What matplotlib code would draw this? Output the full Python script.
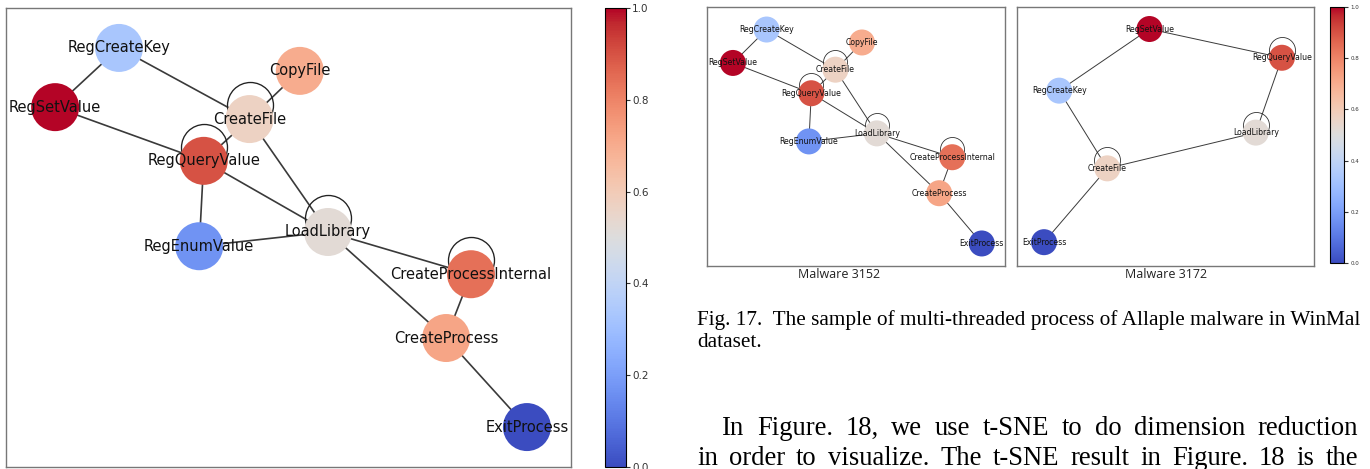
import numpy as np
import matplotlib.pyplot as plt
from matplotlib import cm, colors
from matplotlib.transforms import offset_copy

# ---- data ----
# layout of the Malware 3152 graph (axes fraction), shared by the big and small plot
nodes_a = ['RegCreateKey', 'RegSetValue', 'CopyFile', 'CreateFile', 'RegQueryValue',
           'LoadLibrary', 'RegEnumValue', 'CreateProcessInternal', 'CreateProcess', 'ExitProcess']
x_a = [0.200, 0.087, 0.520, 0.431, 0.350, 0.570, 0.342, 0.823, 0.779, 0.922]
y_a = [0.913, 0.784, 0.863, 0.758, 0.667, 0.512, 0.481, 0.420, 0.281, 0.087]
edges_a = [('RegCreateKey', 'RegSetValue'), ('RegCreateKey', 'CreateFile'),
           ('CopyFile', 'CreateFile'), ('RegSetValue', 'RegQueryValue'),
           ('RegQueryValue', 'CreateFile'), ('RegQueryValue', 'RegEnumValue'),
           ('RegQueryValue', 'LoadLibrary'), ('CreateFile', 'LoadLibrary'),
           ('RegEnumValue', 'LoadLibrary'), ('LoadLibrary', 'CreateProcessInternal'),
           ('LoadLibrary', 'CreateProcess'), ('CreateProcessInternal', 'CreateProcess'),
           ('CreateProcess', 'ExitProcess')]
loops_a = ['CreateFile', 'RegQueryValue', 'LoadLibrary', 'CreateProcessInternal']

# layout of the Malware 3172 graph
nodes_b = ['RegSetValue', 'RegQueryValue', 'RegCreateKey', 'LoadLibrary', 'CreateFile', 'ExitProcess']
x_b = [0.446, 0.892, 0.142, 0.804, 0.304, 0.091]
y_b = [0.915, 0.804, 0.677, 0.515, 0.377, 0.092]
edges_b = [('RegSetValue', 'RegQueryValue'), ('RegSetValue', 'RegCreateKey'),
           ('RegQueryValue', 'LoadLibrary'), ('RegCreateKey', 'CreateFile'),
           ('CreateFile', 'LoadLibrary'), ('CreateFile', 'ExitProcess')]
loops_b = ['RegQueryValue', 'LoadLibrary', 'CreateFile']

# colour value of every API call (0..1 on the coolwarm scale)
node_value = {
    'RegSetValue': 1.00, 'RegQueryValue': 0.90, 'CreateProcessInternal': 0.84,
    'CreateProcess': 0.72, 'CopyFile': 0.70, 'CreateFile': 0.57, 'LoadLibrary': 0.52,
    'RegCreateKey': 0.33, 'RegEnumValue': 0.17, 'ExitProcess': 0.00,
}
cbar_ticks = [0.0, 0.2, 0.4, 0.6, 0.8, 1.0]

panel_titles = ['Malware 3152', 'Malware 3172']
caption_lines = ['Fig. 17.  The sample of multi-threaded process of Allaple malware in WinMal',
                 'dataset.']
para_lines = ['In Figure. 18, we use t-SNE to do dimension reduction',
              'in order to visualize. The t-SNE result in Figure. 18 is the']

W, H = 1370, 469
DPI = 100
cmap = plt.get_cmap('coolwarm')
norm = colors.Normalize(0, 1)


def px_box(x0, y0, x1, y1):
    # pixel box (top-left origin) -> figure fraction rect
    return [x0 / W, 1 - y1 / H, (x1 - x0) / W, (y1 - y0) / H]


def draw_graph(ax, names, xs, ys, edges, loops, node_px, loop_px, loop_up, fsize, lw):
    pos = {n: (x, y) for n, x, y in zip(names, xs, ys)}
    for a, b in edges:
        ax.plot([pos[a][0], pos[b][0]], [pos[a][1], pos[b][1]],
                color='#3a3a3a', lw=lw, zorder=1)
    # self loops: open circles shifted up from the node centre
    tr = offset_copy(ax.transData, fig=ax.figure, x=0, y=loop_up * 72 / DPI, units='points')
    for n in loops:
        ax.plot(pos[n][0], pos[n][1], 'o', ms=loop_px * 72 / DPI, mfc='none',
                mec='#222222', mew=lw * 0.8, transform=tr, zorder=1)
    vals = [node_value[n] for n in names]
    ax.scatter(xs, ys, s=(node_px * 72 / DPI) ** 2, c=vals, cmap=cmap, norm=norm,
               linewidths=0, zorder=2)
    for n in names:
        ax.text(pos[n][0], pos[n][1], n, ha='center', va='center', fontsize=fsize,
                color='#111111', zorder=3)
    ax.set_xlim(0, 1)
    ax.set_ylim(0, 1)
    ax.set_xticks([])
    ax.set_yticks([])
    for s in ax.spines.values():
        s.set_color('#777777')
        s.set_linewidth(1.0)


def add_cbar(fig, rect, lsize):
    cax = fig.add_axes(rect)
    sm = cm.ScalarMappable(norm=norm, cmap=cmap)
    cb = fig.colorbar(sm, cax=cax, ticks=cbar_ticks)
    cb.ax.tick_params(labelsize=lsize, length=3, width=0.8, colors='#333333', pad=1.5)
    cb.outline.set_linewidth(0.8)
    return cb


def justify(fig, words, x0, x1, y, size):
    # place words one by one so the line fills x0..x1 (pixels), y is the baseline
    texts = [fig.text(0, 0, w, fontsize=size, family='Liberation Serif', va='baseline')
             for w in words]
    fig.canvas.draw()
    r = fig.canvas.get_renderer()
    widths = [t.get_window_extent(r).width for t in texts]
    gap = (x1 - x0 - sum(widths)) / (len(words) - 1)
    x = x0
    for t, wd in zip(texts, widths):
        t.set_position((x / W, 1 - y / H))
        x += wd + gap


fig = plt.figure(figsize=(W / DPI, H / DPI), dpi=DPI)

# big single graph
ax0 = fig.add_axes(px_box(6, 8, 571, 467))
draw_graph(ax0, nodes_a, x_a, y_a, edges_a, loops_a, 48, 46, 14, 10.5, 1.2)
add_cbar(fig, px_box(605, 8, 626, 467), 7.5)

# two small graphs
ax1 = fig.add_axes(px_box(707, 7, 1005, 266))
draw_graph(ax1, nodes_a, x_a, y_a, edges_a, loops_a, 26, 24, 8, 5.6, 0.7)
ax2 = fig.add_axes(px_box(1017, 7, 1314, 266))
draw_graph(ax2, nodes_b, x_b, y_b, edges_b, loops_b, 26, 26, 8, 5.6, 0.7)
add_cbar(fig, px_box(1330, 7, 1344, 263), 4)

fig.text(839 / W, 1 - 275 / H, panel_titles[0], ha='center', va='center',
         fontsize=9, family='Open Sans', color='#222222')
fig.text(1166 / W, 1 - 275 / H, panel_titles[1], ha='center', va='center',
         fontsize=9, family='Open Sans', color='#222222')

# caption and body text
fig.text(697 / W, 1 - 325 / H, caption_lines[0], fontsize=15.3,
         family='Liberation Serif', va='baseline')
fig.text(697 / W, 1 - 347 / H, caption_lines[1], fontsize=15.3,
         family='Liberation Serif', va='baseline')
justify(fig, para_lines[0].split(), 722, 1358, 435, 19.2)
justify(fig, para_lines[1].split(), 697, 1358, 465, 19.2)

fig.savefig('out.png', dpi=DPI)
